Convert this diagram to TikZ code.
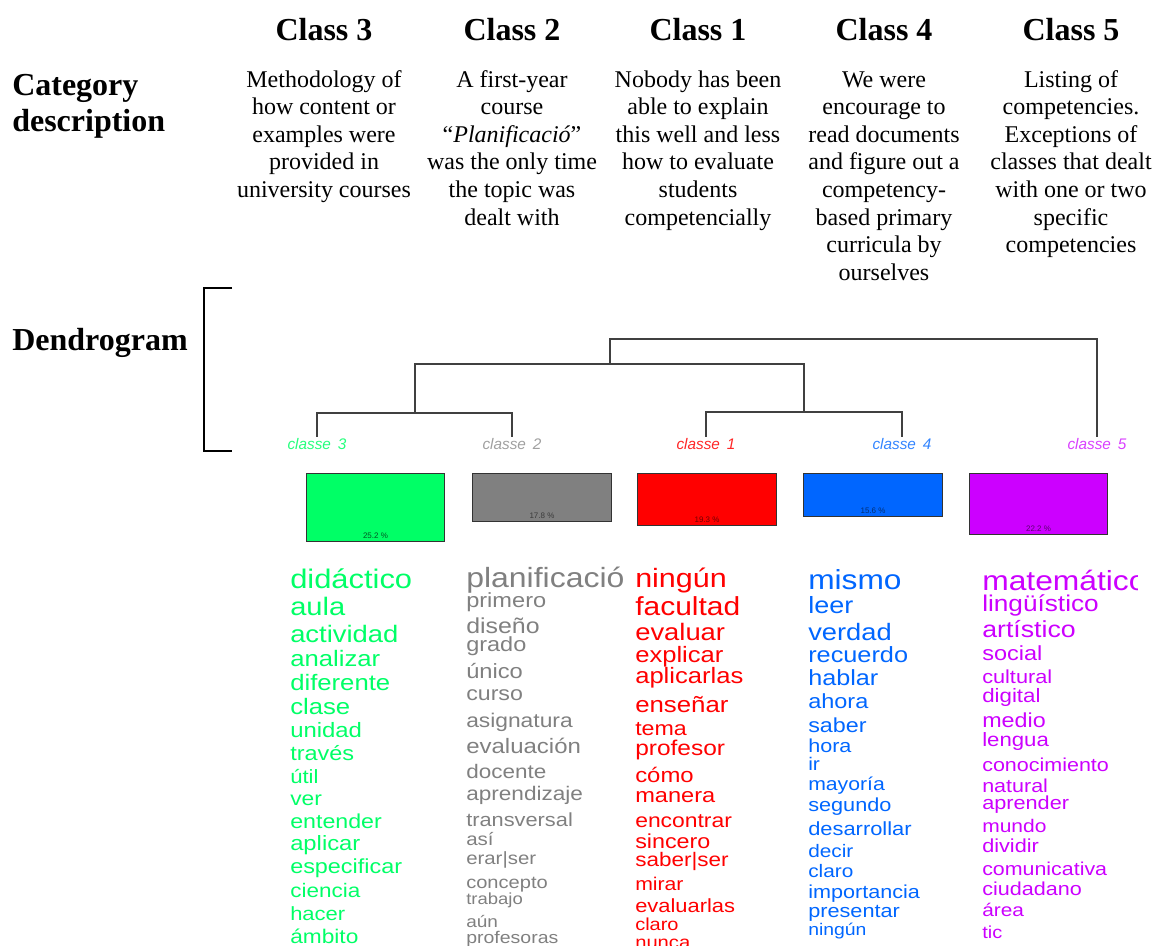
\documentclass[tikz,border=0pt]{standalone}
\usepackage{fontspec}
\setmainfont{Liberation Serif}
\setsansfont{Liberation Sans}
\usepackage{tikz}
\usetikzlibrary{positioning}
\definecolor{cgreen}{RGB}{0,255,102}
\definecolor{cgray}{RGB}{128,128,128}
\definecolor{cred}{RGB}{255,0,0}
\definecolor{cblue}{RGB}{0,102,255}
\definecolor{cpurple}{RGB}{204,0,255}
\tikzset{head/.style={font=\fontsize{24}{27}\selectfont\bfseries,inner sep=0pt,anchor=base}}
\tikzset{desc/.style={font=\fontsize{18}{20.7}\selectfont,align=center,inner sep=0pt,anchor=base}}
\tikzset{dendro/.style={draw=black!75,line width=1.1pt}}
\tikzset{leaf/.style={font=\sffamily\itshape\fontsize{11.5}{11.5}\selectfont,inner sep=0.5pt,anchor=base}}
\tikzset{bar/.style={draw=black!80,line width=0.9pt,inner sep=0pt,minimum width=104pt,anchor=north}}
\tikzset{pct/.style={font=\sffamily\fontsize{6}{6}\selectfont,inner sep=0pt}}
\tikzset{word/.style={inner sep=0pt,anchor=base west}}
\newcommand{\wdfont}[1]{\pgfmathsetmacro\fs{#1*0.652}\sffamily\fontsize{\fs}{\fs}\selectfont}

\begin{document}
\begin{tikzpicture}[x=0.75pt,y=-0.75pt]
    \useasboundingbox (0,0) rectangle (1154,946);
    \clip (0,0) rectangle (1154,946);
    % headings and descriptions (base = last line)
    \foreach \cx/\cn in {324/3,512/2,698/1,884/4,1071/5}
        \node[head] (h\cn) at (\cx,40) {Class \cn};
    \node[head,align=left,anchor=base west] (cat) at (12,131) {Category\\description};
    \node[head,anchor=base west] (dendr) at (12,350) {Dendrogram};
    \node[desc] (d3) at (324,197.4) {Methodology of\\how content or\\examples were\\provided in\\university courses};
    \node[desc] (d2) at (512,225) {A first-year\\course\\``\textit{Planificació}''\\was the only time\\the topic was\\dealt with};
    \node[desc] (d1) at (698,225) {Nobody has been\\able to explain\\this well and less\\how to evaluate\\students\\competencially};
    \node[desc] (d4) at (884,280.2) {We were\\encourage to\\read documents\\and figure out a\\competency-\\based primary\\curricula by\\ourselves};
    \node[desc] (d5) at (1071,252.6) {Listing of\\competencies.\\Exceptions of\\classes that dealt\\with one or two\\specific\\competencies};

    % bracket
    \draw[line width=1.5pt] (232,288) -- (204,288) -- (204,451) -- (232,451);

    % dendrogram
    \node[leaf,text=cgreen!85] (l3) at (317,449) {classe\hspace{0.45em}3};
    \node[leaf,text=cgray!75] (l2) at (512,449) {classe\hspace{0.45em}2};
    \node[leaf,text=cred!85] (l1) at (706,449) {classe\hspace{0.45em}1};
    \node[leaf,text=cblue!80] (l4) at (902,449) {classe\hspace{0.45em}4};
    \node[leaf,text=cpurple!75] (l5) at (1097,449) {classe\hspace{0.45em}5};
    \coordinate (n32) at (415,413);
    \coordinate (n14) at (804,412);
    \coordinate (n3214) at (610,364);
    \coordinate (root) at (850,339);
    \draw[dendro] (l3.north) |- (n32) -| (l2.north);
    \draw[dendro] (l1.north) |- (n14) -| (l4.north);
    \draw[dendro] (n32) |- (n3214) -| (n14);
    \draw[dendro] (n3214) |- (root) -| (l5.north);

    % bars
    \node[bar,fill=cgreen,minimum height=51pt] (b3) at (375.5,473) {};
    \node[bar,fill=cgray,minimum height=36pt] (b2) at (542,473) {};
    \node[bar,fill=cred,minimum height=39pt] (b1) at (707,473) {};
    \node[bar,fill=cblue,minimum height=32.25pt] (b4) at (873,473) {};
    \node[bar,fill=cpurple,minimum height=45.75pt] (b5) at (1038.5,473) {};
    \node[pct,text=cgreen!35!black,above=2.5pt of b3.south] (p3) {25.2 \%};
    \node[pct,text=cgray!45!black,above=2.5pt of b2.south] (p2) {17.8 \%};
    \node[pct,text=cred!45!black,above=2.5pt of b1.south] (p1) {19.3 \%};
    \node[pct,text=cblue!45!black,above=2.5pt of b4.south] (p4) {15.6 \%};
    \node[pct,text=cpurple!45!black,above=2.5pt of b5.south] (p5) {22.2 \%};

    % word lists
    \foreach \w/\s/\b [count=\i] in {didáctico/30.9/588,aula/29.1/615,actividad/27.4/642,analizar/25.7/666,diferente/25.7/690,clase/25.7/714,unidad/23.9/737,través/23.5/760,útil/22.1/783,ver/22.8/805,entender/23.2/828,aplicar/23.8/850,especificar/23.4/873,ciencia/22.5/897,hacer/22/920,ámbito/22.7/943}
        \node[word,text=cgreen,font=\wdfont{\s}] (g\i) at (290,\b) {\scalebox{1.15}[1]{\w}};
    \begin{scope}
        \clip (455,550) rectangle (624,946);
        \foreach \w/\s/\b [count=\i] in {planificación/32/587,primero/23.6/607,diseño/24.9/633,grado/23.5/651,único/23.7/678,curso/23.2/700,asignatura/22.8/727,evaluación/24/753,docente/22.5/778,aprendizaje/22.6/800,transversal/21.8/826,así/20.5/845,erar|ser/20.4/864,concepto/20.1/888,trabajo/18.5/904,aún/19/927,profesoras/19.5/943}
            \node[word,text=cgray,font=\wdfont{\s}] (y\i) at (466,\b) {\scalebox{1.15}[1]{\w}};
    \end{scope}
    \foreach \w/\s/\b [count=\i] in {ningún/30.5/587,facultad/30/615,evaluar/27.4/640,explicar/25.6/662,aplicarlas/25.6/683,enseñar/25.8/712,tema/23.2/735,profesor/24.5/755,cómo/23.9/782,manera/23.6/802,encontrar/22.9/827,sincero/23.3/848,saber|ser/22.5/866,mirar/21.2/890,evaluarlas/21.9/912,claro/20/930,nunca/20.2/948}
        \node[word,text=cred,font=\wdfont{\s}] (r\i) at (635,\b) {\scalebox{1.15}[1]{\w}};
    \foreach \w/\s/\b [count=\i] in {mismo/31.7/589,leer/27/613,verdad/27.3/640,recuerdo/25.3/662,hablar/25.2/685,ahora/23.5/708,saber/23.3/732,hora/21.6/752,ir/21/770,mayoría/21.2/790,segundo/21.7/811,desarrollar/21.9/835,decir/20.8/857,claro/20.8/877,importancia/21.6/898,presentar/21.7/917,ningún/19.4/935}
        \node[word,text=cblue,font=\wdfont{\s}] (u\i) at (808,\b) {\scalebox{1.15}[1]{\w}};
    \begin{scope}
        \clip (970,550) rectangle (1137,946);
        \foreach \w/\s/\b [count=\i] in {matemático/31.8/590,lingüístico/26.2/611,artístico/26.7/637,social/23.5/660,cultural/21.7/683,digital/22.3/702,medio/23.3/727,lengua/22.2/746,conocimiento/21.5/771,natural/21.5/792,aprender/21.7/809,mundo/21/832,dividir/21.7/852,comunicativa/21.4/875,ciudadano/21.6/895,área/20.8/916,tic/20/938}
            \node[word,text=cpurple,font=\wdfont{\s}] (v\i) at (982,\b) {\scalebox{1.15}[1]{\w}};
    \end{scope}
\end{tikzpicture}
\end{document}
